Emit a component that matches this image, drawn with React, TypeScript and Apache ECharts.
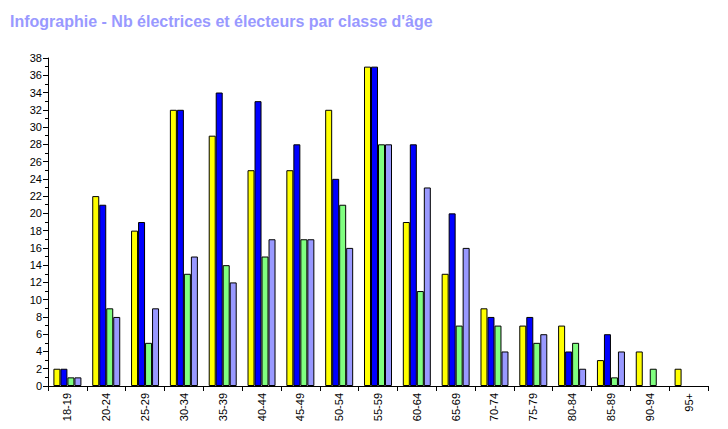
import React, { useEffect, useRef } from "react";
import * as echarts from "echarts";

const categories = ["18-19","20-24","25-29","30-34","35-39","40-44","45-49","50-54","55-59","60-64","65-69","70-74","75-79","80-84","85-89","90-94","95+"];
const serieA = [2,22,18,32,29,25,25,32,37,19,13,9,7,7,3,4,2];
const serieB = [2,21,19,32,34,33,28,24,37,28,20,8,8,4,6,0,0];
const serieC = [1,9,5,13,14,15,17,21,28,11,7,7,5,5,1,2,0];
const serieD = [1,8,9,15,12,17,17,16,28,23,16,4,6,2,4,0,0];
const colors = ["#ffff00", "#0000ff", "#80ff80", "#9999ff"];
const titleText = "Infographie - Nb électrices et électeurs par classe d'âge";

export default function App() {
  const ref = useRef<HTMLDivElement>(null);
  useEffect(() => {
    document.body.style.margin = "0";
    const chart = echarts.init(ref.current!, null, { renderer: "svg" });
    const mk = (data: number[], i: number) => ({
      type: "bar",
      data: data.map((v) => (v === 0 ? "-" : v)),
      barWidth: 7,
      barGap: "0%",
      itemStyle: { color: colors[i], borderColor: "#000", borderWidth: 1 },
    });
    chart.setOption({
      animation: false,
      backgroundColor: "#fff",
      title: {
        text: titleText,
        left: 10,
        top: 13,
        padding: 0,
        textStyle: { color: "#9999ff", fontSize: 16, fontWeight: "bold", fontFamily: "Liberation Sans" },
      },
      grid: { left: 48, top: 58, right: 20, bottom: 43, containLabel: false },
      xAxis: {
        type: "category",
        data: categories,
        axisLine: { lineStyle: { color: "#000", width: 1 } },
        axisTick: { show: true, length: 5, lineStyle: { color: "#000" } },
        axisLabel: { rotate: 90, color: "#000", fontSize: 11, fontFamily: "Liberation Sans", margin: 7, interval: 0 },
      },
      yAxis: {
        type: "value",
        min: 0,
        max: 38,
        interval: 2,
        axisLine: { show: true, lineStyle: { color: "#000", width: 1 } },
        axisTick: { show: true, length: 5, lineStyle: { color: "#000" } },
        minorTick: { show: true, splitNumber: 2, length: 3, lineStyle: { color: "#000" } },
        splitLine: { show: false },
        axisLabel: { color: "#000", fontSize: 11, fontFamily: "Liberation Sans", margin: 6 },
      },
      series: [mk(serieA, 0), mk(serieB, 1), mk(serieC, 2), mk(serieD, 3)],
    });
    return () => chart.dispose();
  }, []);
  return <div ref={ref} style={{ width: 728, height: 429 }} />;
}
